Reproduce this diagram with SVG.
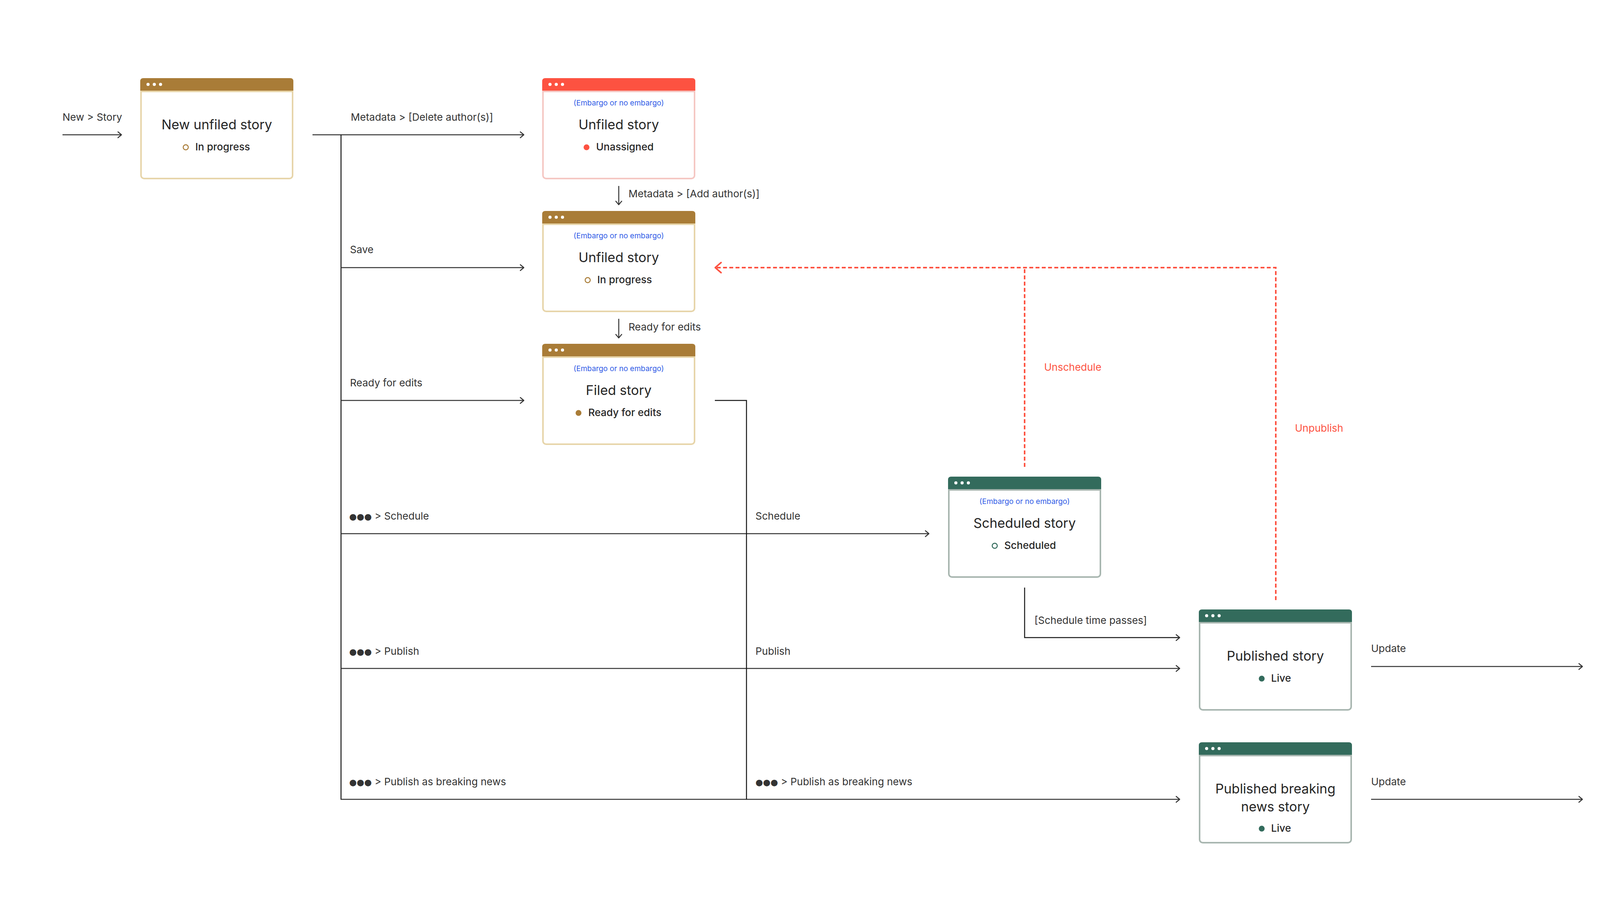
<svg xmlns="http://www.w3.org/2000/svg" width="4732" height="2360" viewBox="0 0 4732 2360">
<style>
text{font-family:Inter,"Liberation Sans",Arial,sans-serif;fill:#2b2b2b}
.title{font-size:34px;text-anchor:middle;fill:#262626}
.status{font-size:26px;font-weight:500;fill:#262626}
.emb{font-size:19px;text-anchor:middle;fill:#2f5be6}
.lbl{font-size:26px;fill:#333}
.rlbl{font-size:26px;fill:#fd5241}
.dots{font-family:"DejaVu Sans",sans-serif;font-size:22px;fill:#333}
.ln{stroke:#333;stroke-width:2.5;fill:none}
.tr{stroke:#151515;stroke-width:2.5;fill:none}
.dash{stroke:#fd5241;stroke-width:4;fill:none;stroke-dasharray:10 6}
.hd{fill:#fff}
.bd{fill:#fff;stroke-width:4}
.brown .bd{stroke:#e7d5aa}
.brown .hdr{fill:#a97c37}
.brown .sep{fill:#e7d5aa}
.red .bd{stroke:#f5c7c3}
.red .hdr{fill:#fd5241}
.red .sep{fill:#f5c7c3}
.green .bd{stroke:#a8b6b0}
.green .hdr{fill:#336b5c}
.green .sep{fill:#a8b6b0}
</style>
<defs>
<marker id="ah" markerUnits="userSpaceOnUse" markerWidth="20" markerHeight="20" viewBox="-12 -10 14 20" refX="0" refY="0" orient="auto">
<path d="M-9,-7.5 L0,0 L-9,7.5" fill="none" stroke="#333" stroke-width="2.5" stroke-linejoin="round" stroke-linecap="round"/>
</marker>
<marker id="rah" markerUnits="userSpaceOnUse" markerWidth="30" markerHeight="34" viewBox="-20 -17 24 34" refX="0" refY="0" orient="auto">
<path d="M-15,-13 L0,0 L-15,13" fill="none" stroke="#fd5241" stroke-width="4" stroke-linejoin="round" stroke-linecap="round"/>
</marker>
</defs>
<rect width="4732" height="2360" fill="#fff"/>

<g id="connectors">
<line class="ln" x1="160" y1="345" x2="311" y2="345" marker-end="url(#ah)"/>
<line class="ln" x1="800" y1="345" x2="1341" y2="345" marker-end="url(#ah)"/>
<line class="tr" x1="873" y1="345" x2="873" y2="2047"/>
<line class="ln" x1="873" y1="685" x2="1341" y2="685" marker-end="url(#ah)"/>
<line class="ln" x1="873" y1="1025" x2="1341" y2="1025" marker-end="url(#ah)"/>
<line class="ln" x1="873" y1="1366" x2="2378" y2="1366" marker-end="url(#ah)"/>
<line class="ln" x1="873" y1="1711" x2="3020" y2="1711" marker-end="url(#ah)"/>
<line class="ln" x1="872" y1="2046" x2="3020" y2="2046" marker-end="url(#ah)"/>
<path class="tr" d="M1830,1025 H1911 V2046"/>
<line class="ln" x1="1584" y1="476" x2="1584" y2="524" marker-end="url(#ah)"/>
<line class="ln" x1="1584" y1="816" x2="1584" y2="865" marker-end="url(#ah)"/>
<path class="tr" d="M2623,1504 V1632 H3020" marker-end="url(#ah)"/>
<line class="ln" x1="3510" y1="1706" x2="4051" y2="1706" marker-end="url(#ah)"/>
<line class="ln" x1="3510" y1="2046" x2="4051" y2="2046" marker-end="url(#ah)"/>
<line class="dash" x1="2623" y1="1195" x2="2623" y2="687"/>
<path class="dash" d="M3266,1536 V685 H1831" marker-end="url(#rah)"/>

<text class="lbl" x="160" y="309">New &gt; Story</text>
<text class="lbl" x="898" y="309">Metadata &gt; [Delete author(s)]</text>
<text class="lbl" x="896" y="648">Save</text>
<text class="lbl" x="896" y="989">Ready for edits</text>
<text class="lbl" x="894" y="1330"><tspan class="dots">●●●</tspan> &gt; Schedule</text>
<text class="lbl" x="894" y="1676"><tspan class="dots">●●●</tspan> &gt; Publish</text>
<text class="lbl" x="894" y="2010"><tspan class="dots">●●●</tspan> &gt; Publish as breaking news</text>
<text class="lbl" x="1934" y="1330">Schedule</text>
<text class="lbl" x="1934" y="1676">Publish</text>
<text class="lbl" x="1934" y="2010"><tspan class="dots">●●●</tspan> &gt; Publish as breaking news</text>
<text class="lbl" x="1609" y="505">Metadata &gt; [Add author(s)]</text>
<text class="lbl" x="1609" y="846">Ready for edits</text>
<text class="lbl" x="2648" y="1597">[Schedule time passes]</text>
<text class="lbl" x="3510" y="1669">Update</text>
<text class="lbl" x="3510" y="2010">Update</text>
<text class="rlbl" x="2673" y="949">Unschedule</text>
<text class="rlbl" x="3315" y="1105">Unpublish</text>
</g>

<g id="n-new" class="brown" transform="translate(359,200)">
<rect class="bd" x="2" y="2" width="388" height="255" rx="8"/>
<path class="hdr" d="M0,33 V8 Q0,0 8,0 H384 Q392,0 392,8 V33 Z"/>
<rect class="sep" x="0" y="32" width="392" height="4"/>
<circle class="hd" cx="20" cy="16" r="4"/><circle class="hd" cx="36" cy="16" r="4"/><circle class="hd" cx="52" cy="16" r="4"/>
<text class="title" x="196" y="131">New unfiled story</text>
<circle cx="116.5" cy="177" r="6.5" fill="none" stroke="#a97c37" stroke-width="2.5"/>
<text class="status" x="141" y="185">In progress</text>
</g>

<g id="n-unassigned" class="red" transform="translate(1388,200)">
<rect class="bd" x="2" y="2" width="388" height="255" rx="8"/>
<path class="hdr" d="M0,33 V8 Q0,0 8,0 H384 Q392,0 392,8 V33 Z"/>
<rect class="sep" x="0" y="32" width="392" height="4"/>
<circle class="hd" cx="20" cy="16" r="4"/><circle class="hd" cx="36" cy="16" r="4"/><circle class="hd" cx="52" cy="16" r="4"/>
<text class="emb" x="196" y="70">(Embargo or no embargo)</text>
<text class="title" x="196" y="131">Unfiled story</text>
<circle cx="113.5" cy="177" r="7.5" fill="#fd5241"/>
<text class="status" x="138" y="185">Unassigned</text>
</g>

<g id="n-unfiled" class="brown" transform="translate(1388,540)">
<rect class="bd" x="2" y="2" width="388" height="255" rx="8"/>
<path class="hdr" d="M0,33 V8 Q0,0 8,0 H384 Q392,0 392,8 V33 Z"/>
<rect class="sep" x="0" y="32" width="392" height="4"/>
<circle class="hd" cx="20" cy="16" r="4"/><circle class="hd" cx="36" cy="16" r="4"/><circle class="hd" cx="52" cy="16" r="4"/>
<text class="emb" x="196" y="70">(Embargo or no embargo)</text>
<text class="title" x="196" y="131">Unfiled story</text>
<circle cx="116.5" cy="177" r="6.5" fill="none" stroke="#a97c37" stroke-width="2.5"/>
<text class="status" x="141" y="185">In progress</text>
</g>

<g id="n-filed" class="brown" transform="translate(1388,880)">
<rect class="bd" x="2" y="2" width="388" height="255" rx="8"/>
<path class="hdr" d="M0,33 V8 Q0,0 8,0 H384 Q392,0 392,8 V33 Z"/>
<rect class="sep" x="0" y="32" width="392" height="4"/>
<circle class="hd" cx="20" cy="16" r="4"/><circle class="hd" cx="36" cy="16" r="4"/><circle class="hd" cx="52" cy="16" r="4"/>
<text class="emb" x="196" y="70">(Embargo or no embargo)</text>
<text class="title" x="196" y="131">Filed story</text>
<circle cx="93" cy="177" r="7.5" fill="#a97c37"/>
<text class="status" x="118" y="185">Ready for edits</text>
</g>

<g id="n-scheduled" class="green" transform="translate(2427,1220)">
<rect class="bd" x="2" y="2" width="388" height="255" rx="8"/>
<path class="hdr" d="M0,33 V8 Q0,0 8,0 H384 Q392,0 392,8 V33 Z"/>
<rect class="sep" x="0" y="32" width="392" height="4"/>
<circle class="hd" cx="20" cy="16" r="4"/><circle class="hd" cx="36" cy="16" r="4"/><circle class="hd" cx="52" cy="16" r="4"/>
<text class="emb" x="196" y="70">(Embargo or no embargo)</text>
<text class="title" x="196" y="131">Scheduled story</text>
<circle cx="119.5" cy="177" r="6.5" fill="none" stroke="#336b5c" stroke-width="2.5"/>
<text class="status" x="144" y="185">Scheduled</text>
</g>

<g id="n-published" class="green" transform="translate(3069,1560)">
<rect class="bd" x="2" y="2" width="388" height="255" rx="8"/>
<path class="hdr" d="M0,33 V8 Q0,0 8,0 H384 Q392,0 392,8 V33 Z"/>
<rect class="sep" x="0" y="32" width="392" height="4"/>
<circle class="hd" cx="20" cy="16" r="4"/><circle class="hd" cx="36" cy="16" r="4"/><circle class="hd" cx="52" cy="16" r="4"/>
<text class="title" x="196" y="131">Published story</text>
<circle cx="161" cy="177" r="7.5" fill="#336b5c"/>
<text class="status" x="185" y="185">Live</text>
</g>

<g id="n-updated" class="green" transform="translate(4099,1560)">
<rect class="bd" x="2" y="2" width="388" height="255" rx="8"/>
<path class="hdr" d="M0,33 V8 Q0,0 8,0 H384 Q392,0 392,8 V33 Z"/>
<rect class="sep" x="0" y="32" width="392" height="4"/>
<circle class="hd" cx="20" cy="16" r="4"/><circle class="hd" cx="36" cy="16" r="4"/><circle class="hd" cx="52" cy="16" r="4"/>
<text class="title" x="196" y="131">Updated story</text>
<circle cx="161" cy="177" r="7.5" fill="#336b5c"/>
<text class="status" x="185" y="185">Live</text>
</g>

<g id="n-breaking" class="green" transform="translate(3069,1900)">
<rect class="bd" x="2" y="2" width="388" height="255" rx="8"/>
<path class="hdr" d="M0,33 V8 Q0,0 8,0 H384 Q392,0 392,8 V33 Z"/>
<rect class="sep" x="0" y="32" width="392" height="4"/>
<circle class="hd" cx="20" cy="16" r="4"/><circle class="hd" cx="36" cy="16" r="4"/><circle class="hd" cx="52" cy="16" r="4"/>
<text class="title" x="196" y="131">Published breaking</text>
<text class="title" x="196" y="177">news story</text>
<circle cx="161" cy="221" r="7.5" fill="#336b5c"/>
<text class="status" x="185" y="229">Live</text>
</g>

<g id="n-updated-breaking" class="green" transform="translate(4099,1900)">
<rect class="bd" x="2" y="2" width="388" height="255" rx="8"/>
<path class="hdr" d="M0,33 V8 Q0,0 8,0 H384 Q392,0 392,8 V33 Z"/>
<rect class="sep" x="0" y="32" width="392" height="4"/>
<circle class="hd" cx="20" cy="16" r="4"/><circle class="hd" cx="36" cy="16" r="4"/><circle class="hd" cx="52" cy="16" r="4"/>
<text class="title" x="196" y="131">Updated breaking</text>
<text class="title" x="196" y="177">news story</text>
<circle cx="161" cy="221" r="7.5" fill="#336b5c"/>
<text class="status" x="185" y="229">Live</text>
</g>
</svg>
